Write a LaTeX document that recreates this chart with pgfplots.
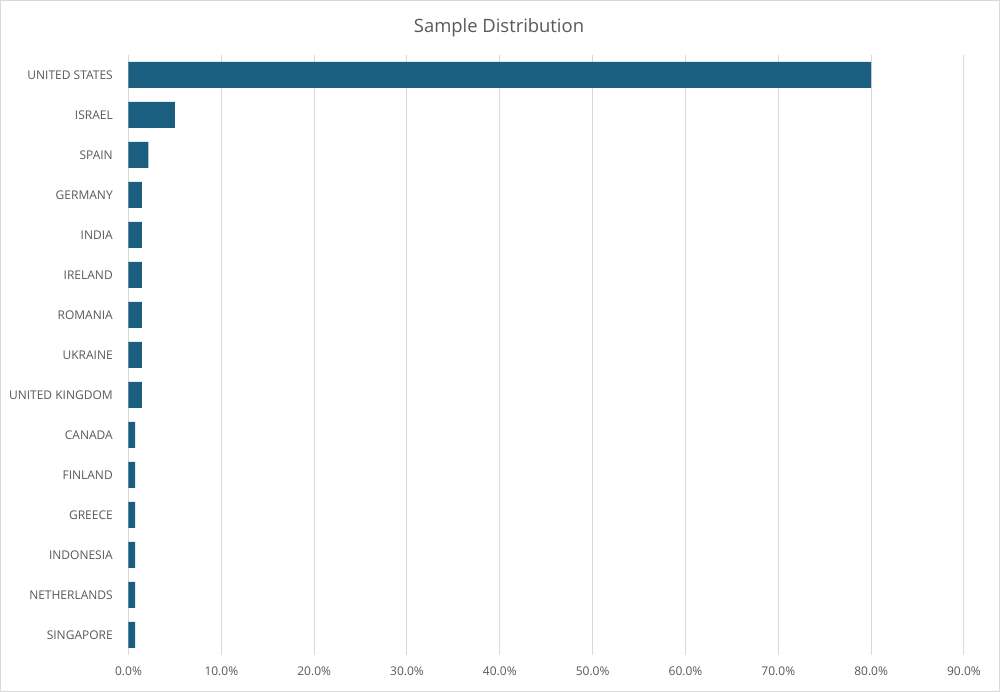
\documentclass[border=0pt]{standalone}
\usepackage{pgfplots}
\pgfplotsset{compat=1.18}
\usepackage{fontspec}
\setmainfont{Open Sans}
\definecolor{barc}{RGB}{26,94,128}
\definecolor{gridc}{RGB}{217,217,217}
\definecolor{txt}{RGB}{89,89,89}
\begin{document}
\begin{tikzpicture}
\draw[fill=white,draw=gridc,line width=0.75pt] (0.375pt,0.375pt) rectangle (749.625pt,518.625pt);
\node[text=txt,font=\fontsize{13.8}{16}\selectfont] at (374.25pt,498pt) {Sample Distribution};
\begin{axis}[
  at={(96.375pt,27.75pt)}, anchor=south west,
  scale only axis, width=626.6pt, height=450pt,
  xmin=0, xmax=90, ymin=-0.5, ymax=14.5,
  axis line style={draw=none}, tick style={draw=none},
  xtick={0,10,...,90}, xmajorgrids, major grid style={gridc, line width=0.75pt},
  ytick={0,...,14},
  yticklabels={SINGAPORE,NETHERLANDS,INDONESIA,GREECE,FINLAND,CANADA,UNITED KINGDOM,UKRAINE,ROMANIA,IRELAND,INDIA,GERMANY,SPAIN,ISRAEL,UNITED STATES},
  xticklabel={\pgfmathprintnumber[fixed,fixed zerofill,precision=1]{\tick}\%},
  /pgf/number format/assume math mode=true,
  ticklabel style={text=txt,font=\fontsize{9}{11}\selectfont},
  xticklabel style={yshift=-5.5pt},
  yticklabel style={xshift=-4pt, yshift=-0.5pt},
  xbar, bar width=19.5pt,
]
\addplot[fill=barc, draw=none] coordinates {
(80.0,14) (5.0,13) (2.143,12) (1.429,11) (1.429,10) (1.429,9) (1.429,8) (1.429,7) (1.429,6)
(0.714,5) (0.714,4) (0.714,3) (0.714,2) (0.714,1) (0.714,0)};
\end{axis}
\end{tikzpicture}
\end{document}
